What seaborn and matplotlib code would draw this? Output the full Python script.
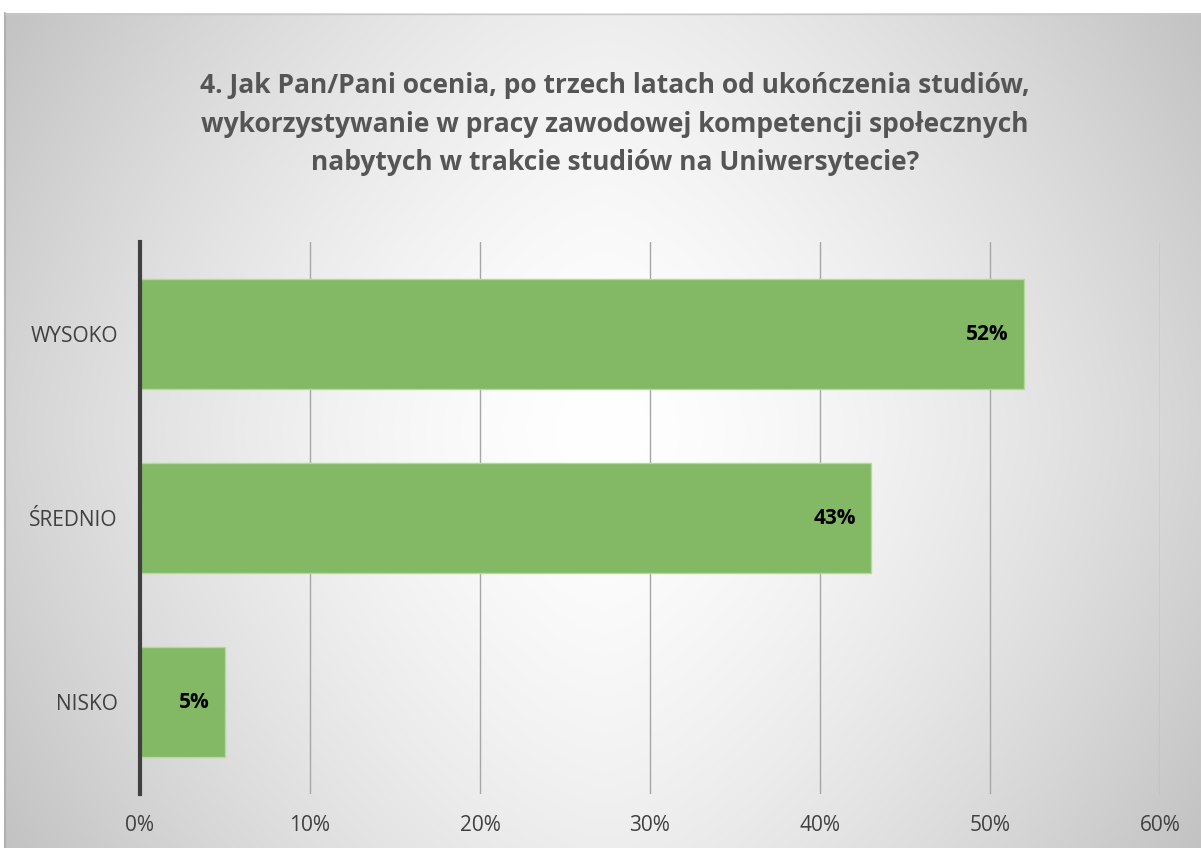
import numpy as np
import pandas as pd
import matplotlib.pyplot as plt
import seaborn as sns

# data
categories = ["WYSOKO", "ŚREDNIO", "NISKO"]
values = [52, 43, 5]
x_ticks = [0, 10, 20, 30, 40, 50, 60]
title = ("4. Jak Pan/Pani ocenia, po trzech latach od ukończenia studiów,\n"
         "wykorzystywanie w pracy zawodowej kompetencji społecznych\n"
         "nabytych w trakcie studiów na Uniwersytecie?")

sns.set_theme(style="white")
plt.rcParams['font.family'] = ['Open Sans', 'DejaVu Sans']

W, H = 1201, 848
fig = plt.figure(figsize=(W / 100, H / 100), dpi=100)

# gradient background of the chart area (light centre, grey edges)
bg = fig.add_axes([5 / W, 0, 1 - 5 / W, 1 - 13 / H])
yy, xx = np.mgrid[13:848, 5:1201]
u = np.abs(xx - 603) / 600
v = np.abs(yy - 430) / 420
shade = 1.0 - 0.17 * u ** 1.5 - 0.07 * v ** 1.5
bg.imshow(np.dstack([shade] * 3), aspect='auto', extent=[0, 1, 0, 1],
          origin='upper', vmin=0, vmax=1)
bg.set_axis_off()
fig.add_artist(plt.Line2D([4.5 / W, 4.5 / W], [0, 1 - 13 / H], color='#b0b0b0', lw=1.5))
fig.add_artist(plt.Line2D([4.5 / W, 1], [1 - 13.5 / H, 1 - 13.5 / H], color='#c8c8c8', lw=1))

df = pd.DataFrame({"kategoria": categories, "procent": values})

ax = fig.add_axes([140 / W, 1 - 794 / H, (1160 - 140) / W, (794 - 242) / H])
ax.patch.set_alpha(0)
sns.barplot(data=df, x="procent", y="kategoria", orient='h', ax=ax,
            color='#83b865', saturation=1, width=0.6,
            edgecolor='#b5d99c', linewidth=1, zorder=3)

ax.set_xlim(0, 60)
ax.set_ylim(2.5, -0.5)
ax.set_xticks(x_ticks)
ax.set_xticklabels([f"{t}%" for t in x_ticks], fontsize=15, color='#404040')
ax.tick_params(axis='y', labelsize=15, labelcolor='#404040', length=0, pad=16)
ax.tick_params(axis='x', length=0, pad=15)
ax.set_xlabel("")
ax.set_ylabel("")
ax.xaxis.grid(True, color='#a6a6a6', lw=1, zorder=0)
ax.set_axisbelow(True)
for s in ['top', 'right', 'bottom']:
    ax.spines[s].set_visible(False)
ax.spines['left'].set_color('#404040')
ax.spines['left'].set_linewidth(3)
ax.spines['left'].set_zorder(5)

for i, v in enumerate(values):
    ax.text(v - 0.9, i, f"{v}%", ha='right', va='center', fontsize=15,
            fontweight='bold', color='black', zorder=6)

fig.text(0.512, 1 - 124 / H, title, ha='center', va='center', fontsize=19,
         fontweight='bold', color='#555555', linespacing=1.55)

fig.savefig("out.png", dpi=100)
